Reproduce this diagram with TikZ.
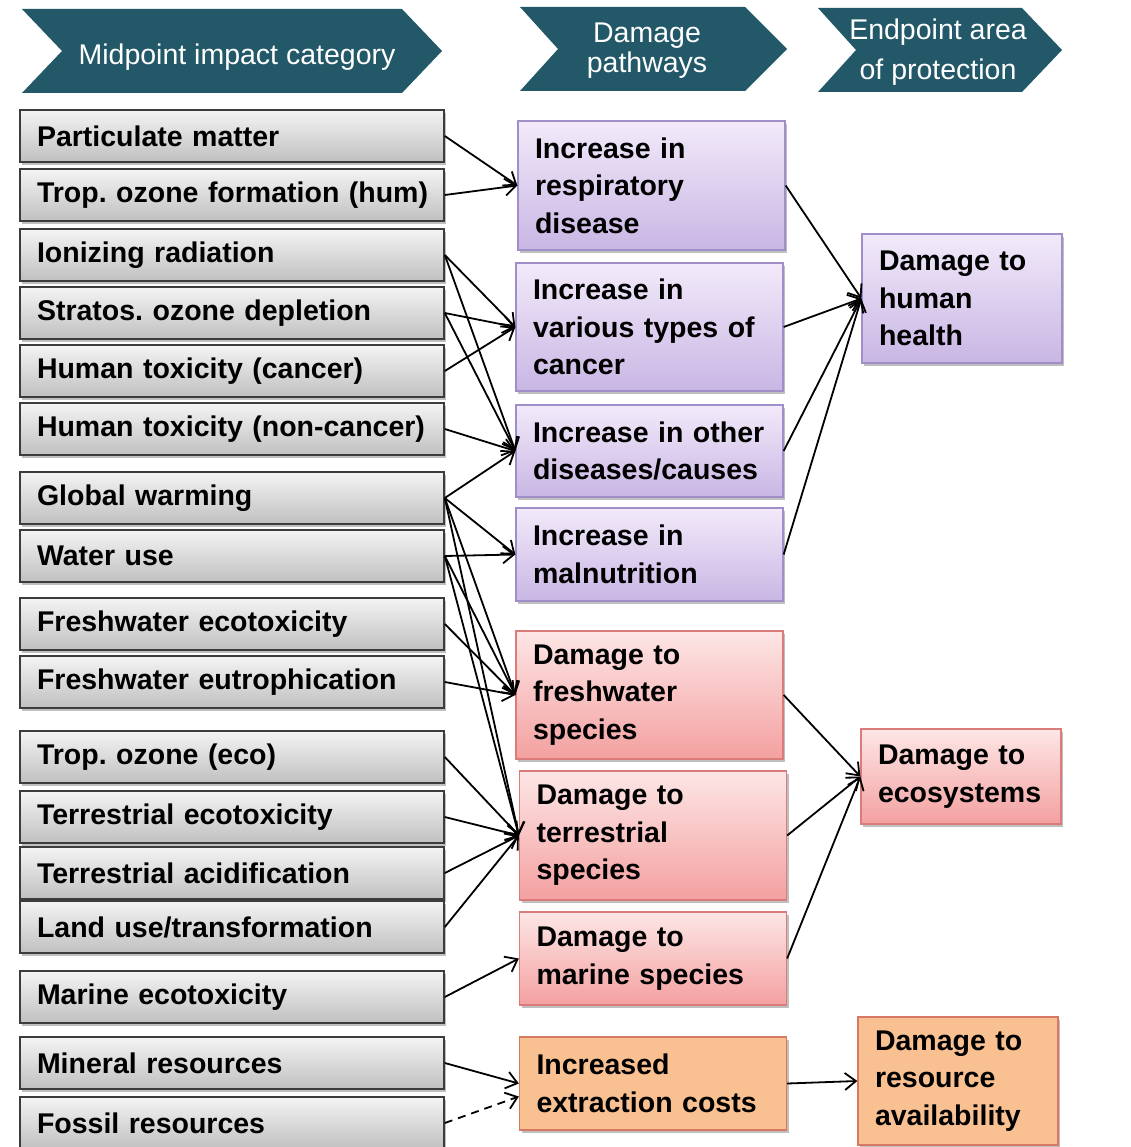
\documentclass[tikz,border=0pt]{standalone}
\usepackage{fontspec}
\setmainfont{Liberation Sans}
\usetikzlibrary{arrows.meta,shadows,calc}
\frenchspacing

\definecolor{hdrteal}{RGB}{34,88,104}
\definecolor{cattop}{RGB}{244,244,244}
\definecolor{catbot}{RGB}{192,192,192}
\definecolor{catline}{RGB}{60,60,60}
\definecolor{hhtop}{RGB}{242,234,250}
\definecolor{hhbot}{RGB}{201,182,228}
\definecolor{hhline}{RGB}{160,142,200}
\definecolor{ectop}{RGB}{253,230,230}
\definecolor{ecbot}{RGB}{244,160,160}
\definecolor{ecline}{RGB}{218,124,124}
\definecolor{rsfill}{RGB}{249,192,146}
\definecolor{rsline}{RGB}{214,120,100}

\begin{document}
\begin{tikzpicture}[x=1pt,y=-1pt,
  txt/.style={font=\fontsize{28.5}{37.5}\selectfont\bfseries\frenchspacing, text=black},
  shade/.style={drop shadow={shadow xshift=2pt, shadow yshift=-3pt, opacity=0.25, fill=black}},
  catbox/.style={txt, shade, draw=catline, line width=1.6pt, top color=cattop, bottom color=catbot,
    minimum width=424pt, minimum height=52pt, inner xsep=15pt, inner ysep=0pt,
    text width=394pt, align=left},
  midbox/.style={txt, shade, line width=1.3pt, minimum width=267pt, inner xsep=17pt, inner ysep=0pt,
    text width=233pt, align=left},
  endbox/.style={txt, shade, line width=1.3pt, minimum width=200pt, inner xsep=17pt, inner ysep=0pt,
    text width=166pt, align=left},
  human/.style={draw=hhline, top color=hhtop, bottom color=hhbot},
  eco/.style={draw=ecline, top color=ectop, bottom color=ecbot},
  res/.style={draw=rsline, fill=rsfill},
  hdr/.style={fill=hdrteal},
  hdrtext/.style={text=white, font=\fontsize{28.5}{30}\selectfont, align=center, inner sep=0pt},
  arr/.style={draw=black, line width=1.8pt, -{Straight Barb[length=11pt,width=17pt]}}
]
\fill[white] (0,0) rectangle (1130,1147);
\useasboundingbox (0,0) rectangle (1130,1147);

% column headers (chevrons)
\fill[hdr] (22,9) -- (402,9) -- (442,51) -- (402,93) -- (22,93) -- (62,51) -- cycle;
\node[hdrtext] (h1) at (237,57) {Midpoint impact category};
\fill[hdr] (520,7) -- (745,7) -- (787,49) -- (745,91) -- (520,91) -- (558,49) -- cycle;
\node[hdrtext] (h2) at (647,51) {Damage\\pathways};
\fill[hdr] (818,8) -- (1022,8) -- (1062,50) -- (1022,92) -- (818,92) -- (856,50) -- cycle;
\node[hdrtext, font=\fontsize{28.5}{40}\selectfont] (h3) at (938,52) {Endpoint area\\of protection};

% midpoint impact categories
\node[catbox] (pm)   at (232,136)  {\hspace*{2pt}Particulate matter};
\node[catbox] (tozh) at (232,195)  {\hspace*{2pt}Trop. ozone formation (hum)};
\node[catbox] (ion)  at (232,255)  {\hspace*{2pt}Ionizing radiation};
\node[catbox] (sod)  at (232,313)  {\hspace*{2pt}Stratos. ozone depletion};
\node[catbox] (htc)  at (232,371)  {\hspace*{2pt}Human toxicity (cancer)};
\node[catbox] (htn)  at (232,429)  {\hspace*{2pt}Human toxicity (non-cancer)};
\node[catbox] (gw)   at (232,498)  {\hspace*{2pt}Global warming};
\node[catbox] (wu)   at (232,556)  {\hspace*{2pt}Water use};
\node[catbox] (fwe)  at (232,624)  {\hspace*{2pt}Freshwater ecotoxicity};
\node[catbox] (fweu) at (232,682)  {\hspace*{2pt}Freshwater eutrophication};
\node[catbox] (toe)  at (232,757)  {\hspace*{2pt}Trop. ozone (eco)};
\node[catbox] (tec)  at (232,817)  {\hspace*{2pt}Terrestrial ecotoxicity};
\node[catbox] (tac)  at (232,873)  {\hspace*{2pt}Terrestrial acidification};
\node[catbox] (lu)   at (232,927)  {\hspace*{2pt}Land use/transformation};
\node[catbox] (mar)  at (232,997)  {\hspace*{2pt}Marine ecotoxicity};
\node[catbox] (min)  at (232,1063) {\hspace*{2pt}Mineral resources};
\node[catbox] (fos)  at (232,1123) {\hspace*{2pt}Fossil resources};

% damage pathways
\node[midbox, human, minimum height=129pt] (resp) at (651.5,185.5) {Increase in\\respiratory\\disease};
\node[midbox, human, minimum height=128pt] (canc) at (649.5,327)   {Increase in\\various types of\\cancer};
\node[midbox, human, minimum height=92pt]  (oth)  at (649.5,451)   {Increase in other\\diseases/causes};
\node[midbox, human, minimum height=93pt]  (mal)  at (649.5,554.5) {Increase in\\malnutrition};
\node[midbox, eco,   minimum height=128pt] (fws)  at (649.5,695)   {Damage to\\freshwater\\species};
\node[midbox, eco,   minimum height=129pt] (ters) at (653,835.5)   {Damage to\\terrestrial\\species};
\node[midbox, eco,   minimum height=93pt]  (mars) at (653,958.5)   {Damage to\\marine species};
\node[midbox, res,   minimum height=93pt]  (ext)  at (653,1083.5)  {Increased\\extraction costs};

% endpoint areas of protection
\node[endbox, human, minimum height=129pt] (hh) at (962,298.5) {Damage to\\human\\health};
\node[endbox, eco,   minimum height=95pt]  (es) at (961,776.5) {Damage to\\ecosystems};
\node[endbox, res,   minimum height=128pt] (ra) at (958,1081)  {Damage to\\resource\\availability};

\coordinate (extlow) at ($(ext.west)+(0,13)$);

% midpoint -> damage pathway links
\draw[arr] (pm.east)   -- (resp.west);
\draw[arr] (tozh.east) -- (resp.west);
\draw[arr] (ion.east)  -- (canc.west);
\draw[arr] (ion.east)  -- (oth.west);
\draw[arr] (sod.east)  -- (canc.west);
\draw[arr] (sod.east)  -- (oth.west);
\draw[arr] (htc.east)  -- (canc.west);
\draw[arr] (htn.east)  -- (oth.west);
\draw[arr] (gw.east)   -- (oth.west);
\draw[arr] (gw.east)   -- (mal.west);
\draw[arr] (gw.east)   -- (fws.west);
\draw[arr] (gw.east)   -- (ters.west);
\draw[arr] (wu.east)   -- (mal.west);
\draw[arr] (wu.east)   -- (fws.west);
\draw[arr] (wu.east)   -- (ters.west);
\draw[arr] (fwe.east)  -- (fws.west);
\draw[arr] (fweu.east) -- (fws.west);
\draw[arr] (toe.east)  -- (ters.west);
\draw[arr] (tec.east)  -- (ters.west);
\draw[arr] (tac.east)  -- (ters.west);
\draw[arr] (lu.east)   -- (ters.west);
\draw[arr] (mar.east)  -- (mars.west);
\draw[arr] (min.east)  -- (ext.west);
\draw[arr, dash pattern=on 8pt off 6pt] (fos.east) -- (extlow);

% damage pathway -> endpoint links
\draw[arr] (resp.east) -- (hh.west);
\draw[arr] (canc.east) -- (hh.west);
\draw[arr] (oth.east)  -- (hh.west);
\draw[arr] (mal.east)  -- (hh.west);
\draw[arr] (fws.east)  -- (es.west);
\draw[arr] (ters.east) -- (es.west);
\draw[arr] (mars.east) -- (es.west);
\draw[arr] (ext.east)  -- (ra.west);
\end{tikzpicture}
\end{document}
